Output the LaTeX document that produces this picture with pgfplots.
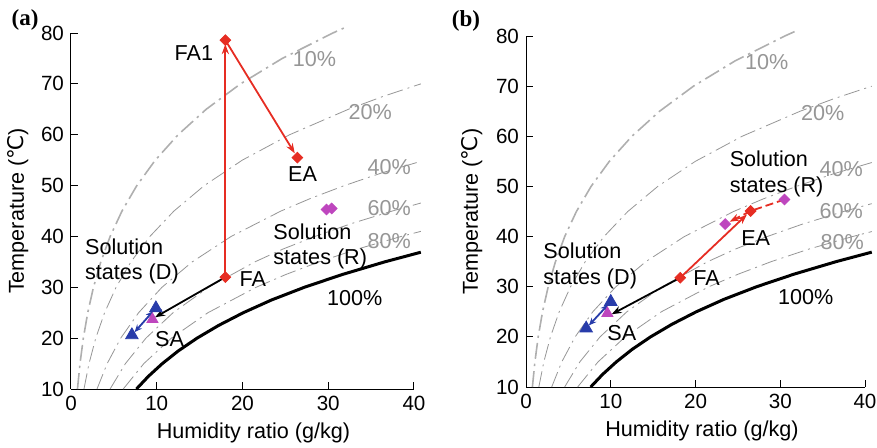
\documentclass[border=0pt]{standalone}
\usepackage{pgfplots}
\pgfplotsset{compat=1.18}
\usepackage{fontspec}
\setmainfont{Liberation Sans}
\newfontfamily\dejavu{DejaVu Sans}
\newfontfamily\timesfont{Liberation Serif}
\usetikzlibrary{arrows.meta}
\definecolor{myred}{RGB}{230,45,35}
\definecolor{mymag}{RGB}{190,70,190}
\definecolor{myblue}{RGB}{40,60,170}
\definecolor{rhgray}{RGB}{150,150,150}
\definecolor{rhlight}{RGB}{175,175,175}
\definecolor{labgray}{RGB}{150,150,150}

\pgfplotstableread{
W T
0.755 10
1.049 15
1.439 20
1.952 25
2.618 30
3.475 35
4.566 40
5.946 45
7.676 50
9.830 55
12.491 60
15.763 65
19.763 70
24.632 75
30.536 80
31.846 81
}\rhten
\pgfplotstableread{
W T
1.512 10
2.101 15
2.885 20
3.916 25
5.258 30
6.988 35
9.201 40
12.008 45
15.544 50
19.974 55
25.493 60
32.345 65
36.333 67.5
40.8 70.0
}\rhtwenty
\pgfplotstableread{
W T
3.030 10
4.217 15
5.798 20
7.882 25
10.606 30
14.136 35
18.678 40
24.488 45
27.97 47.5
31.885 50
36.25 52.5
40.8 54.77
}\rhforty
\pgfplotstableread{
W T
4.557 10
6.347 15
8.737 20
11.899 25
16.046 30
21.447 35
24.69 37.5
28.444 40
32.64 42.5
37.469 45
40.8 46.57
}\rhsixty
\pgfplotstableread{
W T
6.091 10
8.492 15
11.704 20
15.967 25
21.581 30
25.03 32.5
28.930 35
33.364 37.5
38.512 40
40.8 41.0
}\rheighty
\pgfplotstableread{
W T
7.632 10
9.028 12.5
10.651 15
12.518 17.5
14.699 20
17.210 22.5
20.087 25
23.375 27.5
27.211 30
31.608 32.5
36.587 35
40.8 36.9
}\rhhundred

\tikzset{
  txt/.style={font=\fontsize{10.8}{12.75}\selectfont},
  pct/.style={font=\fontsize{10.8}{12}\selectfont, text=labgray},
  rh/.style={color=rhgray, line width=0.4pt, dash pattern=on 8pt off 2.5pt on 1pt off 2.5pt},
  rhten/.style={color=rhlight, line width=0.8pt, dash pattern=on 8pt off 2.5pt on 1.2pt off 2.5pt},
  arr/.style={line width=0.9pt, -{Stealth[length=5pt,width=3.6pt]}},
  darr/.style={line width=0.9pt, {Stealth[length=3.8pt,width=3.2pt]}-{Stealth[length=3.8pt,width=3.2pt]}, shorten <=2pt, shorten >=2pt},
}
\pgfplotsset{
  psy/.style={
    scale only axis, clip=false,
    xmin=0, xmax=40, ymin=10, ymax=80,
    axis x line*=bottom, axis y line*=left,
    axis line style={-, line width=0.5pt},
    tick align=inside, major tick length=3.5pt,
    tick style={black, line width=0.5pt},
    xtick={0,10,20,30,40}, ytick={10,20,...,80},
    tick label style={font=\fontsize{10.3}{12}\selectfont},
    /pgf/number format/assume math mode=true,
    label style={font=\fontsize{10.8}{12}\selectfont},
    xlabel={Humidity ratio (g/kg)},
    ylabel={Temperature ({\dejavu ℃})},
  },
}

\begin{document}
\begin{tikzpicture}
\path[use as bounding box] (0,0) rectangle (438.5pt,223.5pt);
\node[font=\timesfont\bfseries\fontsize{11.5}{13}\selectfont] at (12.5pt,213.5pt) {(a)};
\node[font=\timesfont\bfseries\fontsize{11.5}{13}\selectfont] at (233pt,213pt) {(b)};

% ---------------- (a) ----------------
\begin{axis}[psy, at={(35.5pt,29pt)}, anchor=south west,
  width=171.5pt, height=178pt,
  xlabel style={at={(rel axis cs:0.532,-0.1236)}, anchor=center},
  ylabel style={at={(rel axis cs:-0.1545,0.5)}, anchor=center},
]
\addplot[rhten] table[x=W,y=T] {\rhten};
\addplot[rh] table[x=W,y=T] {\rhtwenty};
\addplot[rh] table[x=W,y=T] {\rhforty};
\addplot[rh] table[x=W,y=T] {\rhsixty};
\addplot[rh] table[x=W,y=T] {\rheighty};
\addplot[black, line width=1.5pt] table[x=W,y=T] {\rhhundred};

\addplot[myred, arr, shorten >=2pt] coordinates {(18,32) (18,78.6)};
\addplot[myred, arr, shorten >=2.5pt] coordinates {(18,78.6) (26.4,55.5)};
\addplot[black, arr] coordinates {(18,32) (9.8,24.1)};
\addplot[myblue, darr] coordinates {(7.1,20.6) (9.9,25.9)};

\addplot[only marks, mark=square*, mark size=1.9pt, mark options={rotate=45, draw=myred, fill=myred}] coordinates {(18,78.6) (26.4,55.5) (18,32)};
\addplot[only marks, mark=square*, mark size=1.9pt, mark options={rotate=45, draw=mymag, fill=mymag}] coordinates {(29.8,45.3) (30.4,45.5)};
\addplot[only marks, mark=triangle*, mark size=3.6pt, mark options={draw=myblue, fill=myblue}] coordinates {(7.1,20.6) (9.9,25.9)};
\addplot[only marks, mark=triangle*, mark size=3.2pt, mark options={draw=mymag, fill=mymag}] coordinates {(9.5,23.7)};

\node[txt, anchor=east] at (axis cs:17.4,76.1) {FA1};
\node[txt] at (axis cs:27.0,52.2) {EA};
\node[txt] at (axis cs:21.2,31.7) {FA};
\node[txt] at (axis cs:11.5,19.9) {SA};
\node[txt, anchor=west, align=left, inner sep=0pt] at (axis cs:1.6,35.1) {Solution\\states (D)};
\node[txt, anchor=west, align=left, inner sep=0pt] at (axis cs:23.56,38.0) {Solution\\states (R)};
\node[txt] at (axis cs:33.1,27.8) {100\%};
\node[pct] at (axis cs:28.4,74.9) {10\%};
\node[pct] at (axis cs:34.9,64.5) {20\%};
\node[pct] at (axis cs:37.1,53.6) {40\%};
\node[pct] at (axis cs:37.1,45.6) {60\%};
\node[pct] at (axis cs:37.1,39.0) {80\%};
\end{axis}

% ---------------- (b) ----------------
\begin{axis}[psy, at={(263pt,30pt)}, anchor=south west,
  width=169.5pt, height=175.5pt,
  xlabel style={at={(rel axis cs:0.519,-0.1254)}, anchor=center},
  ylabel style={at={(rel axis cs:-0.159,0.5)}, anchor=center},
]
\addplot[rhten] table[x=W,y=T] {\rhten};
\addplot[rh] table[x=W,y=T] {\rhtwenty};
\addplot[rh] table[x=W,y=T] {\rhforty};
\addplot[rh] table[x=W,y=T] {\rhsixty};
\addplot[rh] table[x=W,y=T] {\rheighty};
\addplot[black, line width=1.5pt] table[x=W,y=T] {\rhhundred};

\addplot[myred, arr, shorten >=2.5pt] coordinates {(18.2,31.8) (26.5,45.1)};
\addplot[myred, line width=0.9pt, dash pattern=on 4pt off 2pt] coordinates {(30.5,47.4) (26.5,45.1)};
\addplot[myred, arr, dash pattern=on 4pt off 2pt, shorten >=2.5pt] coordinates {(26.5,45.1) (23.5,42.5)};
\addplot[black, arr] coordinates {(18.2,31.8) (10.1,24.5)};
\addplot[myblue, darr] coordinates {(7.1,21.7) (10.0,27.0)};

\addplot[only marks, mark=square*, mark size=1.9pt, mark options={rotate=45, draw=myred, fill=myred}] coordinates {(18.2,31.8) (26.5,45.1)};
\addplot[only marks, mark=square*, mark size=1.9pt, mark options={rotate=45, draw=mymag, fill=mymag}] coordinates {(23.5,42.5) (30.5,47.4)};
\addplot[only marks, mark=triangle*, mark size=3.6pt, mark options={draw=myblue, fill=myblue}] coordinates {(7.1,21.7) (10.0,27.0)};
\addplot[only marks, mark=triangle*, mark size=3.2pt, mark options={draw=mymag, fill=mymag}] coordinates {(9.6,24.7)};

\node[txt] at (axis cs:27.1,39.7) {EA};
\node[txt] at (axis cs:21.3,31.7) {FA};
\node[txt] at (axis cs:11.3,20.7) {SA};
\node[txt, anchor=west, align=left, inner sep=0pt] at (axis cs:2.0,34.2) {Solution\\states (D)};
\node[txt, anchor=west, align=left, inner sep=0pt] at (axis cs:24.0,52.5) {Solution\\states (R)};
\node[txt] at (axis cs:33.0,27.85) {100\%};
\node[pct] at (axis cs:28.4,74.9) {10\%};
\node[pct] at (axis cs:35.0,64.6) {20\%};
\node[pct] at (axis cs:37.2,53.5) {40\%};
\node[pct] at (axis cs:37.2,45.0) {60\%};
\node[pct] at (axis cs:37.3,39.0) {80\%};
\end{axis}
\end{tikzpicture}
\end{document}
